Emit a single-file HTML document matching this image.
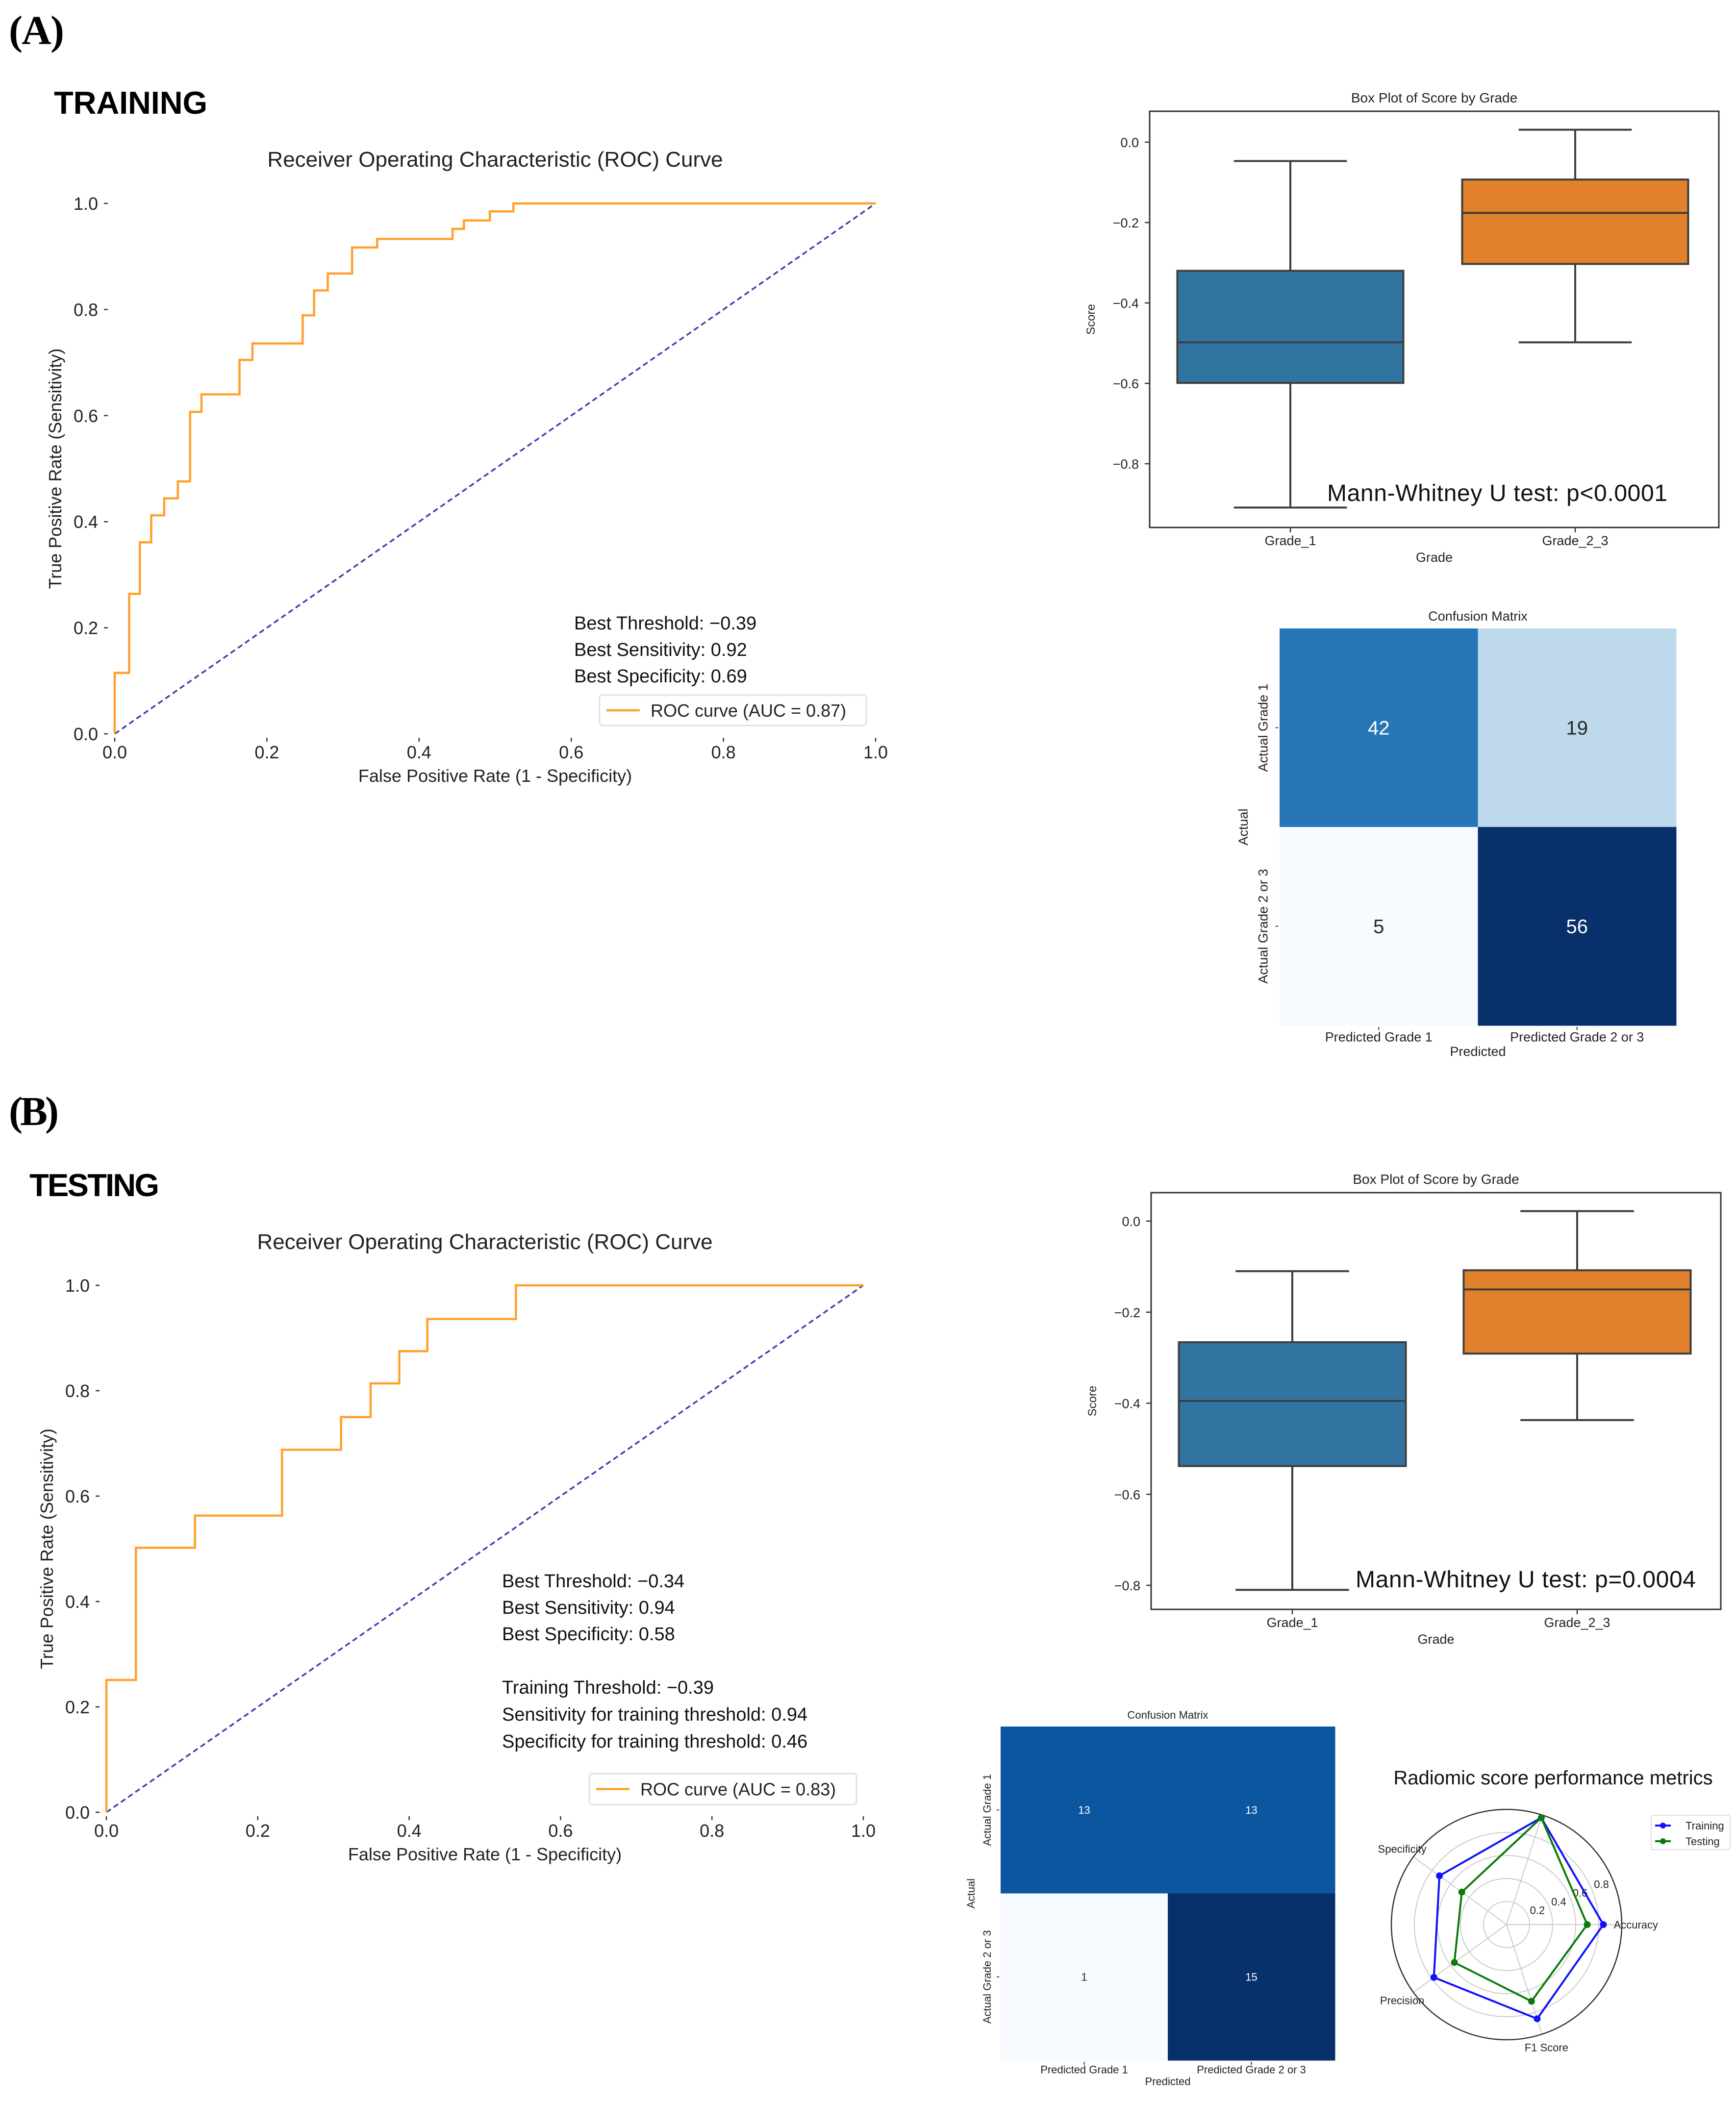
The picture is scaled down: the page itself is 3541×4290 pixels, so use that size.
<!DOCTYPE html>
<html><head><meta charset="utf-8"><style>
html,body{margin:0;padding:0;background:#fff;}
svg{display:block;font-family:"Liberation Sans",sans-serif;}
</style></head><body>
<svg id="fig" xmlns="http://www.w3.org/2000/svg" width="3541" height="4290" viewBox="0 0 3541 4290">
<rect x="0" y="0" width="3541" height="4290" fill="#fff"/>
<text x="18" y="90" font-family="Liberation Serif,serif" font-weight="bold" font-size="84" textLength="113">(A)</text>
<text x="110" y="232" font-weight="bold" font-size="65" textLength="313">TRAINING</text>
<text x="18" y="2295" font-family="Liberation Serif,serif" font-weight="bold" font-size="84" textLength="102">(B)</text>
<text x="60" y="2440" font-weight="bold" font-size="65" textLength="265">TESTING</text>
<g id="layer"></g>
</svg>
<script>
// ---------- DATA ----------
const rocTrainFpr = [0,0.019,0.033,0.048,0.065,0.083,0.099,0.114,0.164,0.181,0.247,0.262,0.280,0.312,0.345,0.444,0.459,0.493,0.524,1.0];
const rocTrainTpr = [0.115,0.264,0.361,0.412,0.444,0.476,0.607,0.640,0.705,0.736,0.789,0.836,0.868,0.917,0.933,0.952,0.968,0.985,1.0,1.0];
const rocTestFpr = [0,0.039,0.117,0.232,0.310,0.349,0.387,0.424,0.541,1.0];
const rocTestTpr = [0.251,0.502,0.563,0.688,0.750,0.814,0.875,0.936,1.0,1.0];
const rocTicks = [0,0.2,0.4,0.6,0.8,1.0];
const rocTickLabels = ["0.0","0.2","0.4","0.6","0.8","1.0"];

const boxGrades = ["Grade_1","Grade_2_3"];
const boxTrainStats = [[-0.909,-0.599,-0.498,-0.32,-0.047],[-0.498,-0.303,-0.176,-0.093,0.031]];
const boxTestStats = [[-0.81,-0.538,-0.395,-0.266,-0.110],[-0.437,-0.291,-0.150,-0.108,0.022]];
const boxTicksTrain = [0,-0.2,-0.4,-0.6,-0.8];
const boxTicksTest = [0,-0.2,-0.4,-0.6,-0.8];
const boxTickLabels = ["0.0","\u22120.2","\u22120.4","\u22120.6","\u22120.8"];

const cmRows = ["Actual Grade 1","Actual Grade 2 or 3"];
const cmCols = ["Predicted Grade 1","Predicted Grade 2 or 3"];
const cmTrain = [[42,19],[5,56]];
const cmTest = [[13,13],[1,15]];

const radarAxes = ["Accuracy","","Specificity","Precision","F1 Score"];
const radarTraining = [0.84,0.975,0.72,0.78,0.86];
const radarTesting = [0.70,0.975,0.48,0.56,0.70];
const radarRings = [0.2,0.4,0.6,0.8];
const radarRingLabels = ["0.2","0.4","0.6","0.8"];

// ---------- HELPERS ----------
const NS="http://www.w3.org/2000/svg";
const layer=document.getElementById('layer');
function mk(tag,attrs,parent){const e=document.createElementNS(NS,tag);for(const k in attrs)e.setAttribute(k,attrs[k]);(parent||layer).appendChild(e);return e;}
function txt(x,y,s,size,attrs,parent){const e=mk('text',Object.assign({x:x,y:y,'font-size':size,fill:'#222'},attrs||{}),parent);e.textContent=s;return e;}

// ---------- ROC ----------
function roc(cfg,fprs,tprs){
  const g=mk('g',{});
  
  
  const sx=v=>cfg.x0+v*(cfg.x1-cfg.x0), sy=v=>cfg.y0-v*(cfg.y0-cfg.y1);
  const t=txt((cfg.x0+cfg.x1)/2,cfg.titleY,"Receiver Operating Characteristic (ROC) Curve",44,{'text-anchor':'middle'},g);
  
  rocTicks.forEach((v,i)=>{
    const yl=txt(cfg.x0-34,sy(v)+13,rocTickLabels[i],36,{'text-anchor':'end'},g);
    
    mk('line',{x1:cfg.x0-22,x2:cfg.x0-14,y1:sy(v),y2:sy(v),stroke:'#333','stroke-width':2.5},g);
    const xl=txt(sx(v),cfg.y0+50,rocTickLabels[i],36,{'text-anchor':'middle'},g);
    
    mk('line',{x1:sx(v),x2:sx(v),y1:cfg.y0+8,y2:cfg.y0+16,stroke:'#333','stroke-width':2.5},g);
  });
  const xt=txt((cfg.x0+cfg.x1)/2,cfg.y0+98,"False Positive Rate (1 - Specificity)",36,{'text-anchor':'middle'},g);
  
  const yc=(cfg.y0+cfg.y1)/2;
  const yt=txt(cfg.ylabX,yc,"True Positive Rate (Sensitivity)",36,{'text-anchor':'middle',transform:`rotate(-90 ${cfg.ylabX} ${yc})`},g);
  
  const diag=mk('line',{x1:sx(0),y1:sy(0),x2:sx(1),y2:sy(1),stroke:'#4040b0','stroke-width':3.5,'stroke-dasharray':'11 7'},g);
  
  let d=`M${sx(0)},${sy(0)}`;
  for(let i=0;i<fprs.length;i++){d+=` L${sx(fprs[i])},${sy(i?tprs[i-1]:0)} L${sx(fprs[i])},${sy(tprs[i])}`;}
  const p=mk('path',{d:d,fill:'none',stroke:'#ffa02a','stroke-width':4.5},g);
  
  cfg.lines.forEach((s,i)=>{const l=txt(cfg.textX,cfg.textY[i],s,38,{fill:'#111'},g);});
  const lg=mk('g',{},g);
  
  mk('rect',{x:cfg.lg[0],y:cfg.lg[1],width:cfg.lg[2],height:cfg.lg[3],rx:6,fill:'#fff',stroke:'#ddd','stroke-width':2.5},lg);
  mk('line',{x1:cfg.lg[0]+14,x2:cfg.lg[0]+82,y1:cfg.lg[1]+cfg.lg[3]/2,y2:cfg.lg[1]+cfg.lg[3]/2,stroke:'#ffa02a','stroke-width':4.5},lg);
  txt(cfg.lg[0]+104,cfg.lg[1]+cfg.lg[3]/2+13,cfg.legend,36,{},lg);
}
roc({name:'roc-training',x0:234,x1:1786,y0:1497,y1:415,titleY:340,ylabX:125,textX:1171,textY:[1284,1338,1392],
  lines:["Best Threshold: \u22120.39","Best Sensitivity: 0.92","Best Specificity: 0.69"],lg:[1223,1418,544,62],legend:"ROC curve (AUC = 0.87)"},rocTrainFpr,rocTrainTpr);
roc({name:'roc-testing',x0:217,x1:1761,y0:3697,y1:2622,titleY:2548,ylabX:108,textX:1024,textY:[3238,3292,3346,3455,3510,3565],
  lines:["Best Threshold: \u22120.34","Best Sensitivity: 0.94","Best Specificity: 0.58","Training Threshold: \u22120.39","Sensitivity for training threshold: 0.94","Specificity for training threshold: 0.46"],
  lg:[1202,3618,545,63],legend:"ROC curve (AUC = 0.83)"},rocTestFpr,rocTestTpr);

// ---------- BOX PLOTS ----------
function box(cfg,stats,ticks){
  const g=mk('g',{});
  
  
  const sy=v=>cfg.zeroY+(-v)*cfg.unit;
  const t=txt((cfg.fx0+cfg.fx1)/2,cfg.fy0-18,"Box Plot of Score by Grade",28,{'text-anchor':'middle'},g);
  
  const colors=['#3274a1','#e1812c'];
  stats.forEach((s,i)=>{
    const cx=cfg.centers[i], hw=cfg.bw/2, cw=cfg.bw/4;
    const bg=mk('g',{},g);
    
    
    const st={stroke:'#3d3d3d','stroke-width':4};
    mk('line',Object.assign({x1:cx,x2:cx,y1:sy(s[4]),y2:sy(s[3])},st),bg);
    mk('line',Object.assign({x1:cx,x2:cx,y1:sy(s[1]),y2:sy(s[0])},st),bg);
    mk('line',Object.assign({x1:cx-cw,x2:cx+cw,y1:sy(s[4]),y2:sy(s[4])},st),bg);
    mk('line',Object.assign({x1:cx-cw,x2:cx+cw,y1:sy(s[0]),y2:sy(s[0])},st),bg);
    mk('rect',Object.assign({x:cx-hw,y:sy(s[3]),width:cfg.bw,height:sy(s[1])-sy(s[3]),fill:colors[i]},st),bg);
    mk('line',Object.assign({x1:cx-hw,x2:cx+hw,y1:sy(s[2]),y2:sy(s[2])},st),bg);
    const xl=txt(cx,cfg.fy1+36,boxGrades[i],27,{'text-anchor':'middle'},g);
    
    mk('line',{x1:cx,x2:cx,y1:cfg.fy1,y2:cfg.fy1+10,stroke:'#333','stroke-width':2.5},g);
  });
  mk('rect',{x:cfg.fx0,y:cfg.fy0,width:cfg.fx1-cfg.fx0,height:cfg.fy1-cfg.fy0,fill:'none',stroke:'#333','stroke-width':3},g);
  ticks.forEach((v,i)=>{
    const l=txt(cfg.fx0-22,sy(v)+10,boxTickLabels[i],27,{'text-anchor':'end'},g);
    
    mk('line',{x1:cfg.fx0-10,x2:cfg.fx0,y1:sy(v),y2:sy(v),stroke:'#333','stroke-width':2.5},g);
  });
  const xt=txt((cfg.fx0+cfg.fx1)/2,cfg.fy1+70,"Grade",27,{'text-anchor':'middle'},g);
  
  const yc=(cfg.fy0+cfg.fy1)/2;
  const yt=txt(cfg.fx0-112,yc,"Score",24,{'text-anchor':'middle',transform:`rotate(-90 ${cfg.fx0-112} ${yc})`},g);
  
  const m=txt(cfg.mx,cfg.my,cfg.mw,48,{fill:'#111',textLength:694},g);
  
}
box({name:'boxplot-training',fx0:2345,fx1:3506,fy0:227,fy1:1076,zeroY:290,unit:820,centers:[2632,3213],bw:461,mx:2707,my:1022,mw:"Mann-Whitney U test: p<0.0001"},boxTrainStats,boxTicksTrain);
box({name:'boxplot-testing',fx0:2348,fx1:3510,fy0:2433,fy1:3283,zeroY:2491,unit:928.75,centers:[2636,3217],bw:463,mx:2765,my:3238,mw:"Mann-Whitney U test: p=0.0004"},boxTestStats,boxTicksTest);

// ---------- CONFUSION MATRICES ----------
function cmColor(v,max){
  const stops=[[247,251,255],[222,235,247],[198,219,239],[158,202,225],[107,174,214],[66,146,198],[33,113,181],[8,81,156],[8,48,107]];
  let t=Math.min(1,v/max)*(stops.length-1);const i=Math.min(stops.length-2,Math.floor(t));const f=t-i;
  const c=stops[i].map((a,k)=>Math.round(a+(stops[i+1][k]-a)*f));return `rgb(${c[0]},${c[1]},${c[2]})`;
}
function cm(cfg,m){
  const g=mk('g',{});
  
  
  let mx=0,mn=1e9;m.forEach(r=>r.forEach(v=>{mx=Math.max(mx,v);mn=Math.min(mn,v);}));
  const cs=(cfg.x1-cfg.x0)/2, ch=(cfg.y1-cfg.y0)/2;
  const t=txt((cfg.x0+cfg.x1)/2,cfg.y0-16,"Confusion Matrix",cfg.fs,{'text-anchor':'middle'},g);
  
  m.forEach((row,r)=>row.forEach((v,c)=>{
    const cell=mk('rect',{x:cfg.x0+c*cs,y:cfg.y0+r*ch,width:cs+0.5,height:ch+0.5,fill:cmColor(v-mn,mx-mn)},g);
    
    const light=(v-mn)/(mx-mn)<0.5;
    const l=txt(cfg.x0+(c+0.5)*cs,cfg.y0+(r+0.5)*ch+cfg.ns*0.35,String(v),cfg.ns,{'text-anchor':'middle',fill:light?'#262626':'#fff'},g);
    
  }));
  cmRows.forEach((s,r)=>{
    const cy=cfg.y0+(r+0.5)*ch, lx=cfg.x0-cfg.fs*0.9;
    const l=txt(lx,cy,s,cfg.fs,{'text-anchor':'middle',transform:`rotate(-90 ${lx} ${cy})`},g);
    
    mk('line',{x1:cfg.x0-8,x2:cfg.x0-3,y1:cy,y2:cy,stroke:'#333','stroke-width':2},g);
  });
  cmCols.forEach((s,c)=>{
    const cx=cfg.x0+(c+0.5)*cs;
    const l=txt(cx,cfg.y1+cfg.fs*1.2,s,cfg.fs,{'text-anchor':'middle'},g);
    
    mk('line',{x1:cx,x2:cx,y1:cfg.y1+3,y2:cfg.y1+9,stroke:'#333','stroke-width':2},g);
  });
  const ax=cfg.x0-cfg.fs*2.4, ay=(cfg.y0+cfg.y1)/2;
  const a=txt(ax,ay,"Actual",cfg.fs,{'text-anchor':'middle',transform:`rotate(-90 ${ax} ${ay})`},g);
  
  const p=txt((cfg.x0+cfg.x1)/2,cfg.y1+cfg.fs*2.3,"Predicted",cfg.fs,{'text-anchor':'middle'},g);
  
}
cm({name:'confusion-matrix-training',x0:2610,x1:3419,y0:1282,y1:2092,fs:27,ns:40},cmTrain);
cm({name:'confusion-matrix-testing',x0:2041,x1:2723,y0:3522,y1:4203,fs:22,ns:22},cmTest);

// ---------- RADAR ----------
(function(){
  const cx=3073, cy=3926, R=235;
  const g=mk('g',{});
  
  
  const t=txt(3168,3640,"Radiomic score performance metrics",40,{'text-anchor':'middle',fill:'#111'},g);
  
  const ang=i=>i*2*Math.PI/radarAxes.length;
  const pt=(i,v)=>[cx+Math.cos(ang(i))*v*R, cy-Math.sin(ang(i))*v*R];
  radarRings.forEach((v,i)=>{
    mk('circle',{cx:cx,cy:cy,r:v*R,fill:'none',stroke:'#ccc','stroke-width':2},g);
    const a=22*Math.PI/180;
    const l=txt(cx+Math.cos(a)*v*R+4,cy-Math.sin(a)*v*R-4,radarRingLabels[i],22,{},g);
    
  });
  radarAxes.forEach((s,i)=>{
    const e=pt(i,1);
    mk('line',{x1:cx,y1:cy,x2:e[0],y2:e[1],stroke:'#ccc','stroke-width':2},g);
    if(s){
      const lp=pt(i,1.12);
      const l=txt(i==0?cx+R*0.93:lp[0],lp[1]+8,s,22,{'text-anchor':i==0?'start':'middle'},g);
      
    }
  });
  mk('circle',{cx:cx,cy:cy,r:R,fill:'none',stroke:'#333','stroke-width':2.5},g);
  [[radarTraining,'#1010ff','radar-training'],[radarTesting,'#0a7a0a','radar-testing']].forEach(([vals,col,nm])=>{
    const pts=vals.map((v,i)=>pt(i,v));
    const s=mk('g',{},g);
    
    
    mk('polygon',{points:pts.map(p=>p.join(',')).join(' '),fill:'none',stroke:col,'stroke-width':4},s);
    pts.forEach(p=>mk('circle',{cx:p[0],cy:p[1],r:7,fill:col},s));
  });
  const lg=mk('g',{},g);
  
  
  mk('rect',{x:3368,y:3703,width:161,height:70,rx:4,fill:'#fff',stroke:'#ddd','stroke-width':2},lg);
  [['Training','#1010ff',3724],['Testing','#0a7a0a',3756]].forEach(([s,c,y])=>{
    mk('line',{x1:3376,x2:3408,y1:y,y2:y,stroke:c,'stroke-width':4},lg);
    mk('circle',{cx:3392,cy:y,r:6,fill:c},lg);
    txt(3438,y+8,s,22,{},lg);
  });
})();
</script>
</body></html>
